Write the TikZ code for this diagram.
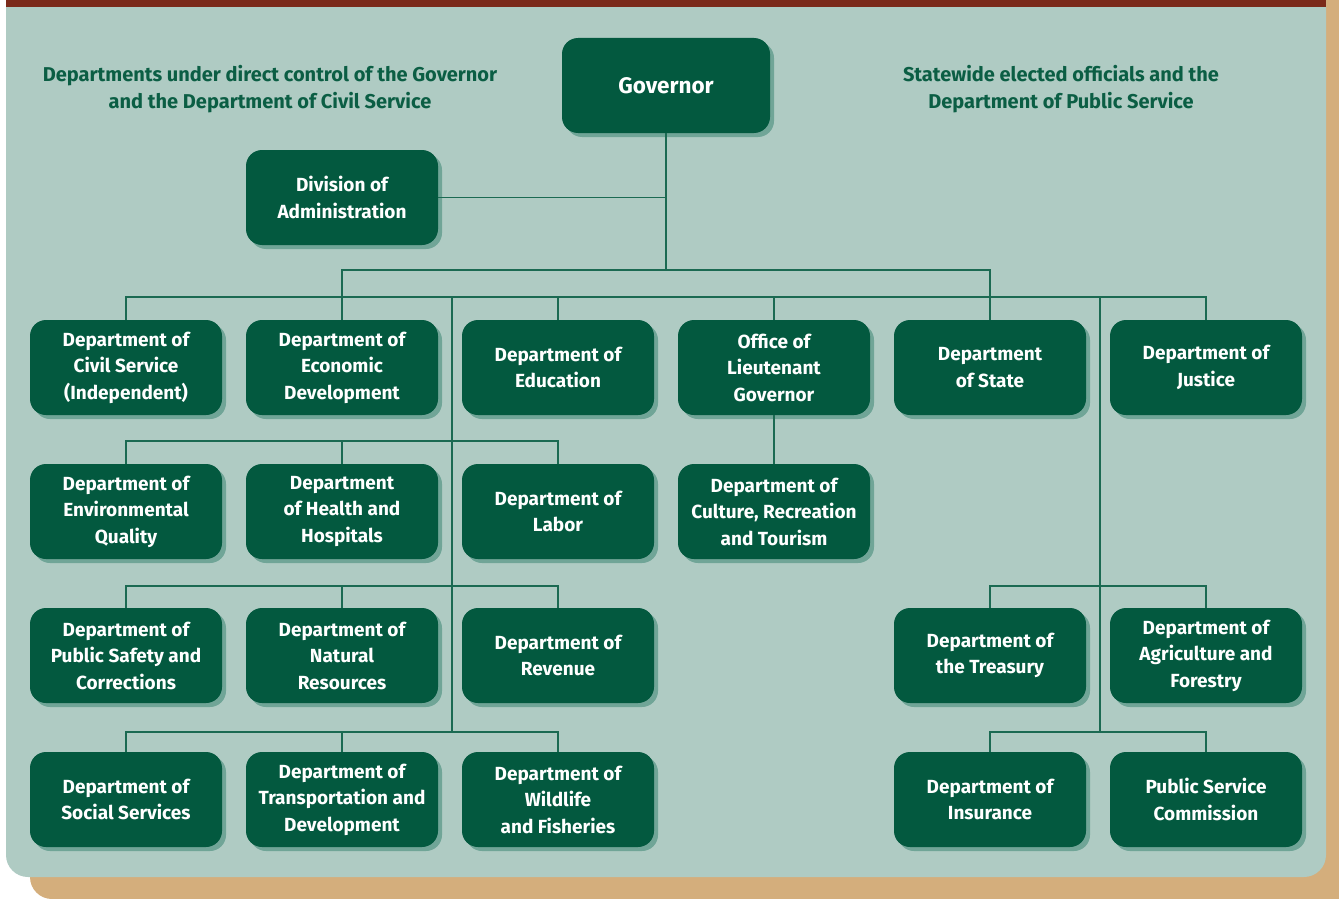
\documentclass[tikz,border=0pt]{standalone}
\usepackage{fontspec}
\setmainfont{Fira Sans}
\usetikzlibrary{shadows}
\definecolor{panelcol}{HTML}{AFCBC3}
\definecolor{tancol}{HTML}{D4AE7C}
\definecolor{barcol}{HTML}{7B2A1A}
\definecolor{boxcol}{HTML}{03593F}
\definecolor{shadcol}{HTML}{70A597}
\definecolor{headcol}{HTML}{0B5E44}
\definecolor{linecol}{HTML}{1B6A52}
\tikzset{
  dept/.style={draw=none, fill=boxcol, rounded corners=16pt, minimum width=192pt, minimum height=95pt,
    text=white, align=center, font=\bfseries\fontsize{19}{26.5}\selectfont, inner sep=0pt,
    drop shadow={shadow xshift=4pt, shadow yshift=-4pt, fill=shadcol, opacity=1}},
  head/.style={text=headcol, align=center, font=\bfseries\fontsize{20}{27}\selectfont},
  conn/.style={draw=linecol, line width=1.3pt}
}
\begin{document}
\begin{tikzpicture}[x=1pt,y=-1pt]
\useasboundingbox (0,0) rectangle (1339,899);
\clip (0,0) rectangle (1339,899);
\fill[white] (0,0) rectangle (1339,899);
\fill[tancol, rounded corners=22pt] (30,-40) rectangle (1380,899);
\fill[panelcol, rounded corners=22pt] (6,-40) rectangle (1326,877);
\fill[barcol] (6,-1) rectangle (1326,7);

\node[head] (hl) at (270,89) {Departments under direct control of the Governor\\and the Department of Civil Service};
\node[head] (hr) at (1061,89) {Statewide elected officials and the\\Department of Public Service};

\coordinate (ra) at (0,270);
\coordinate (r1) at (0,297);
\coordinate (r2) at (0,441);
\coordinate (r3) at (0,586);
\coordinate (r4) at (0,732);
\coordinate (tl1) at (452,297);
\coordinate (tl4) at (452,732);
\coordinate (tr1) at (1100,297);
\coordinate (tr4) at (1100,732);

\node[dept, font=\bfseries\fontsize{22.5}{30}\selectfont, minimum width=208pt] (gov) at (666,85.5) {Governor};
\node[dept] (div) at (342,197.5) {Division of\\Administration};

\node[dept] (civ) at (126,367.5) {Department of\\Civil Service\\(Independent)};
\node[dept] (eco) at (342,367.5) {Department of\\Economic\\Development};
\node[dept] (edu) at (558,367.5) {Department of\\Education};
\node[dept] (ltg) at (774,367.5) {Office of\\Lieutenant\\Governor};
\node[dept] (sta) at (990,367.5) {Department\\of State};
\node[dept] (jus) at (1206,367.5) {Department of\\Justice};

\node[dept] (env) at (126,511.5) {Department of\\Environmental\\Quality};
\node[dept] (hea) at (342,511.5) {Department\\of Health and\\Hospitals};
\node[dept] (lab) at (558,511.5) {Department of\\Labor};
\node[dept] (cul) at (774,511.5) {Department of\\Culture, Recreation\\and Tourism};

\node[dept] (pub) at (126,655.5) {Department of\\Public Safety and\\Corrections};
\node[dept] (nat) at (342,655.5) {Department of\\Natural\\Resources};
\node[dept] (rev) at (558,655.5) {Department of\\Revenue};
\node[dept] (tre) at (990,655.5) {Department of\\the Treasury};
\node[dept] (agr) at (1206,655.5) {Department of\\Agriculture and\\Forestry};

\node[dept] (soc) at (126,799.5) {Department of\\Social Services};
\node[dept] (tra) at (342,799.5) {Department of\\Transportation and\\Development};
\node[dept] (wil) at (558,799.5) {Department of\\Wildlife\\and Fisheries};
\node[dept] (ins) at (990,799.5) {Department of\\Insurance};
\node[dept] (psc) at (1206,799.5) {Public Service\\Commission};

\draw[conn] (gov.south) -- (gov.south |- ra);
\draw[conn] (div.east) -- (gov.south |- div.east);
\draw[conn] (eco.north) -- (eco.north |- ra) -| (sta.north);
\draw[conn] (civ.north) |- (jus.north |- r1) -- (jus.north);
\draw[conn] (edu.north) -- (edu.north |- r1);
\draw[conn] (ltg.north) -- (ltg.north |- r1);
\draw[conn] (tl1) -- (tl4);
\draw[conn] (tr1) -- (tr4);
\draw[conn] (env.north) |- (lab.north |- r2) -- (lab.north);
\draw[conn] (hea.north) -- (hea.north |- r2);
\draw[conn] (pub.north) |- (rev.north |- r3) -- (rev.north);
\draw[conn] (nat.north) -- (nat.north |- r3);
\draw[conn] (soc.north) |- (wil.north |- r4) -- (wil.north);
\draw[conn] (tra.north) -- (tra.north |- r4);
\draw[conn] (tre.north) |- (agr.north |- r3) -- (agr.north);
\draw[conn] (ins.north) |- (psc.north |- r4) -- (psc.north);
\draw[conn] (ltg.south) -- (cul.north);
\end{tikzpicture}
\end{document}
